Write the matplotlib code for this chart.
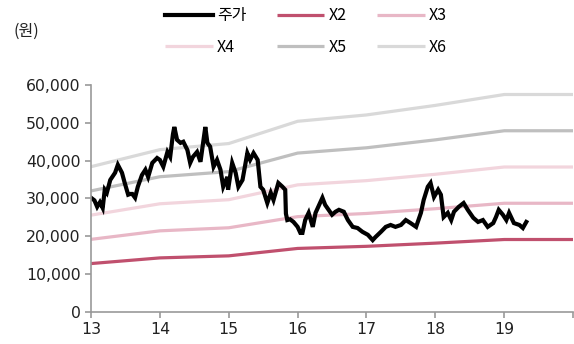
import numpy as np
import matplotlib
matplotlib.use('Agg')
import matplotlib.pyplot as plt

plt.rcParams['font.family'] = ['Noto Sans CJK KR', 'DejaVu Sans']

# band knots (year-end), BPS in won
band_years = [13, 14, 15, 16, 17, 18, 19, 20]
bps = [6400, 7150, 7420, 8400, 8680, 9100, 9580, 9580]
multiples = [2, 3, 4, 5, 6]
band_labels = ['X2', 'X3', 'X4', 'X5', 'X6']
band_colors = ['#c0506e', '#e8b7c6', '#f2d5dd', '#bfbfbf', '#d9d9d9']

# share price (decimal year, thousand won)
price_t = [13.00, 13.05, 13.09, 13.13, 13.17, 13.20, 13.23, 13.28, 13.35, 13.39,
           13.45, 13.49, 13.54, 13.57, 13.60, 13.64, 13.68, 13.74, 13.79, 13.83,
           13.89, 13.96, 14.00, 14.05, 14.11, 14.15, 14.19, 14.21, 14.25, 14.30,
           14.34, 14.40, 14.44, 14.48, 14.54, 14.59, 14.63, 14.66, 14.69, 14.73,
           14.78, 14.83, 14.88, 14.92, 14.98, 14.99, 15.05, 15.10, 15.14, 15.20,
           15.27, 15.31, 15.36, 15.42, 15.46, 15.50, 15.56, 15.61, 15.65, 15.72,
           15.78, 15.82, 15.83, 15.85, 15.89, 15.94, 16.00, 16.04, 16.07, 16.11,
           16.16, 16.22, 16.26, 16.30, 16.36, 16.40, 16.45, 16.50, 16.55, 16.60,
           16.67, 16.73, 16.80, 16.87, 16.94, 17.02, 17.09, 17.13, 17.21, 17.28,
           17.35, 17.42, 17.50, 17.57, 17.64, 17.72, 17.79, 17.83, 17.89, 17.93,
           17.98, 18.04, 18.08, 18.12, 18.18, 18.23, 18.27, 18.34, 18.41, 18.47,
           18.55, 18.62, 18.69, 18.76, 18.84, 18.88, 18.92, 18.98, 19.03, 19.07,
           19.14, 19.22, 19.27, 19.32]
price = [30.2, 29.5, 27.8, 29.0, 27.5, 32.3, 31.5, 34.9, 36.8, 38.9,
         36.8, 34.1, 31.0, 31.2, 31.2, 30.2, 33.1, 36.2, 37.6, 35.7,
         39.4, 40.7, 40.2, 38.4, 42.3, 41.0, 47.0, 48.9, 45.5, 44.7,
         45.0, 42.8, 39.4, 41.0, 42.3, 39.7, 45.0, 48.9, 44.7, 43.7,
         38.4, 40.2, 37.6, 33.1, 35.7, 32.3, 39.4, 36.8, 33.1, 34.9,
         42.0, 40.2, 42.0, 40.2, 33.1, 32.3, 28.8, 31.5, 29.6, 34.1,
         33.1, 32.3, 26.0, 24.3, 24.5, 23.8, 22.5, 20.9, 20.9, 24.3,
         26.2, 22.5, 26.2, 27.8, 30.2, 28.3, 27.0, 25.7, 26.5, 27.0,
         26.5, 24.3, 22.5, 22.2, 21.2, 20.4, 19.0, 19.8, 21.2, 22.5,
         23.0, 22.5, 23.0, 24.3, 23.5, 22.5, 26.2, 29.6, 33.1, 34.1,
         30.4, 32.3, 31.0, 25.1, 26.2, 24.3, 26.5, 27.8, 28.8, 27.0,
         24.9, 23.8, 24.3, 22.5, 23.5, 25.1, 27.0, 25.7, 24.3, 26.2,
         23.5, 23.0, 22.2, 23.8]

fig = plt.figure(figsize=(5.74, 3.44), dpi=100)
ax = fig.add_axes([0.1585, 0.093, 0.84, 0.66])

for m, lab, col in zip(multiples, band_labels, band_colors):
    ax.plot(band_years, [b * m for b in bps], color=col, lw=2.3, label=lab,
            solid_capstyle='butt')
ax.plot(price_t, [p * 1000 for p in price], color='black', lw=3.0, label='주가',
        solid_joinstyle='miter')

ax.set_xlim(13, 20)
ax.set_ylim(0, 60000)
ax.set_xticks([13, 14, 15, 16, 17, 18, 19, 20])
ax.set_xticklabels(['13', '14', '15', '16', '17', '18', '19', ''])
ax.set_yticks(range(0, 60001, 10000))
ax.set_yticklabels(['{:,}'.format(v) for v in range(0, 60001, 10000)])
for s in ['top', 'right']:
    ax.spines[s].set_visible(False)
for s in ['left', 'bottom']:
    ax.spines[s].set_color('#999999')
    ax.spines[s].set_linewidth(1.2)
ax.tick_params(colors='#999999', labelcolor='#222222', labelsize=11.3,
               length=4, width=1.2)
for t in ax.get_xticklabels() + ax.get_yticklabels():
    t.set_fontfamily('DejaVu Sans')

h, l = ax.get_legend_handles_labels()
# column-major fill: row1 = 주가, X2, X3 / row2 = X4, X5, X6
order = [5, 2, 0, 3, 1, 4]
fig.legend([h[i] for i in order], [l[i] for i in order], ncol=3,
           loc='upper left', bbox_to_anchor=(0.262, 1.02), frameon=False,
           fontsize=11.5, handlelength=3.0, handletextpad=0.25,
           columnspacing=1.9, labelspacing=0.9)
fig.text(0.024, 0.91, '(원)', fontsize=11.5, va='center', color='#222222')

fig.savefig('out.png', dpi=100)
